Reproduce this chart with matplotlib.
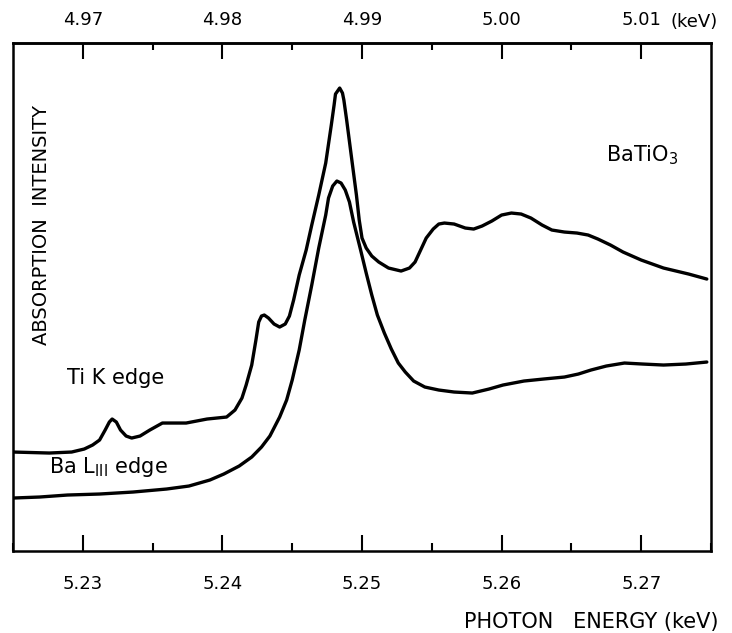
import numpy as np
import matplotlib.pyplot as plt
from matplotlib.ticker import MultipleLocator, FixedLocator

plt.rcParams['font.family'] = ['DejaVu Sans']

# Ti K edge spectrum (upper curve), energy in keV, intensity in arb. units
ti_energy = [5.2250, 5.2276, 5.2292, 5.2301, 5.2307, 5.2312, 5.2316, 5.2319, 5.2321, 5.2324,
             5.2327, 5.2331, 5.2335, 5.2341, 5.2348, 5.2357, 5.2374, 5.2389, 5.2403, 5.2409,
             5.2414, 5.2417, 5.2421, 5.2424, 5.2426, 5.2428, 5.2430, 5.2433, 5.2437, 5.2441,
             5.2445, 5.2448, 5.2451, 5.2455, 5.2460, 5.2464, 5.2469, 5.2474, 5.2478, 5.2480,
             5.2481, 5.2484, 5.2486, 5.2487, 5.2489, 5.2493, 5.2496, 5.2498, 5.2500, 5.2503,
             5.2507, 5.2512, 5.2519, 5.2528, 5.2534, 5.2538, 5.2542, 5.2546, 5.2551, 5.2555,
             5.2559, 5.2566, 5.2574, 5.2580, 5.2586, 5.2593, 5.2600, 5.2607, 5.2614, 5.2621,
             5.2629, 5.2636, 5.2645, 5.2654, 5.2662, 5.2669, 5.2678, 5.2687, 5.2700, 5.2716,
             5.2734, 5.2747]
ti_intensity = [99, 98, 99, 102, 106, 111, 121, 129, 132, 129,
                121, 115, 113, 115, 121, 128, 128, 132, 134, 141,
                153, 166, 186, 211, 229, 235, 236, 233, 227, 224,
                227, 235, 251, 276, 301, 326, 356, 388, 426, 446,
                457, 463, 458, 451, 431, 388, 356, 331, 313, 303,
                295, 289, 283, 280, 283, 289, 301, 313, 322, 327,
                328, 327, 323, 322, 325, 330, 336, 338, 337, 333,
                326, 321, 319, 318, 316, 312, 306, 299, 291, 283,
                277, 272]

# Ba L_III edge spectrum (lower curve)
ba_energy = [5.2250, 5.2269, 5.2289, 5.2312, 5.2336, 5.2360, 5.2376, 5.2391, 5.2401, 5.2412,
             5.2421, 5.2428, 5.2434, 5.2441, 5.2446, 5.2450, 5.2455, 5.2459, 5.2464, 5.2469,
             5.2474, 5.2476, 5.2479, 5.2482, 5.2485, 5.2488, 5.2491, 5.2494, 5.2499, 5.2503,
             5.2507, 5.2511, 5.2516, 5.2521, 5.2526, 5.2531, 5.2537, 5.2545, 5.2555, 5.2566,
             5.2579, 5.2591, 5.2601, 5.2616, 5.2630, 5.2645, 5.2655, 5.2664, 5.2675, 5.2688,
             5.2701, 5.2716, 5.2732, 5.2747]
ba_intensity = [53, 54, 56, 57, 59, 62, 65, 71, 77, 85,
                94, 104, 115, 134, 151, 171, 201, 231, 266, 303,
                336, 353, 365, 370, 368, 361, 349, 329, 301, 278,
                256, 236, 218, 202, 188, 179, 170, 164, 161, 159,
                158, 162, 166, 170, 172, 174, 177, 181, 185, 188,
                187, 186, 187, 189]

bottom_ticks = [5.23, 5.24, 5.25, 5.26, 5.27]
top_ticks = [4.97, 4.98, 4.99, 5.00, 5.01]
top_labels = ['4.97', '4.98', '4.99', '5.00', '5.01']
shift = 0.26

fig = plt.figure(figsize=(7.32, 6.33), dpi=100)
ax = fig.add_axes([0.0178, 0.1295, 0.9535, 0.8025])

ax.plot(ti_energy, ti_intensity, color='black', lw=2.4,
        solid_capstyle='round', solid_joinstyle='round')
ax.plot(ba_energy, ba_intensity, color='black', lw=2.4,
        solid_capstyle='round', solid_joinstyle='round')

ax.set_xlim(5.225, 5.275)
ax.set_ylim(0, 508)

for s in ax.spines.values():
    s.set_linewidth(1.8)

ax.set_xticks(bottom_ticks)
ax.set_xticklabels(['%.2f' % t for t in bottom_ticks])
ax.xaxis.set_minor_locator(MultipleLocator(0.005))
ax.tick_params(axis='x', which='major', direction='in', length=11.5, width=1.5,
               labelsize=13, pad=17)
ax.tick_params(axis='x', which='minor', direction='in', length=5.5, width=1.5)
ax.set_yticks([])

top = ax.secondary_xaxis('top', functions=(lambda x: x - shift, lambda x: x + shift))
top.set_xticks(top_ticks)
top.set_xticklabels(top_labels)
top.xaxis.set_minor_locator(FixedLocator([4.975, 4.985, 4.995, 5.005]))
top.tick_params(which='major', direction='in', length=11.5, width=1.5, labelsize=13, pad=10)
top.tick_params(which='minor', direction='in', length=5, width=1.5)
top.spines['top'].set_linewidth(1.8)

fig.text(670 / 732, 1 - 22 / 633, '(keV)', fontsize=13, ha='left', va='center')

fig.text(0.982, 1 - 622 / 633, 'PHOTON   ENERGY (keV)', fontsize=15, ha='right', va='center')
fig.text(42 / 732, 1 - 225 / 633, 'ABSORPTION  INTENSITY', fontsize=14,
         rotation=90, ha='center', va='center')

ax.text(5.2289, 173, 'Ti K edge', fontsize=15, ha='left', va='center')
ax.text(5.2276, 84, r'Ba L$_{\mathrm{III}}$ edge', fontsize=15, ha='left', va='center')
ax.text(5.2675, 396, r'BaTiO$_3$', fontsize=15, ha='left', va='center')

fig.savefig('out.png', dpi=100)
